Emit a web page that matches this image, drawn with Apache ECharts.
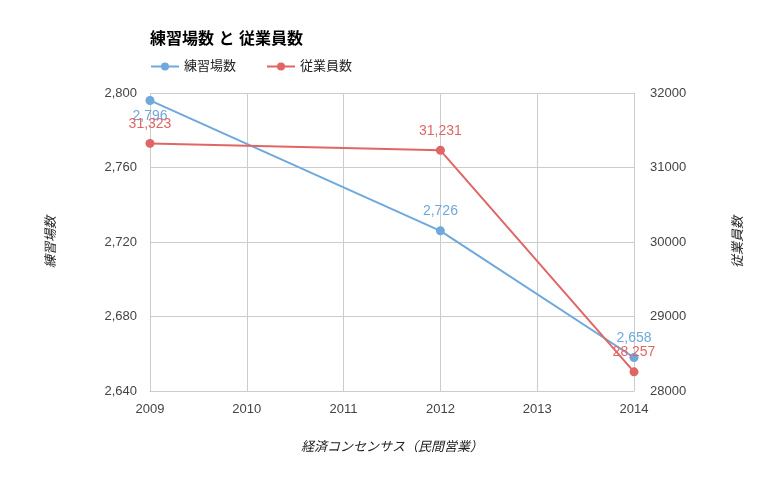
<!DOCTYPE html>
<html>
<head>
<meta charset="utf-8">
<script src="https://cdn.jsdelivr.net/npm/echarts@6/dist/echarts.min.js"></script>
<style>
  html, body { margin: 0; padding: 0; background: #fff; }
  #chart { width: 783px; height: 484px; }
</style>
</head>
<body>
<div id="chart"></div>
<script>
const years = [2009, 2012, 2014]
const rangeCount = [2796, 2726, 2658]
const employees = [31323, 31231, 28257]
const leftTicks = [2640, 2680, 2720, 2760, 2800]
const rightTicks = [28000, 29000, 30000, 31000, 32000]

const font = '"Liberation Sans", Arial, "Noto Sans CJK JP", sans-serif'
const comma = v => Number(v).toLocaleString('en-US')

const chart = echarts.init(document.getElementById('chart'))

const option = {
  animation: false,
  textStyle: { fontFamily: font },
  title: {
    text: '練習場数 と 従業員数',
    left: 145,
    top: 27,
    textStyle: { fontSize: 16, fontWeight: 'bold', color: '#000', fontFamily: font }
  },
  legend: {
    left: 145,
    top: 55,
    itemWidth: 28,
    itemHeight: 10,
    itemGap: 30,
    textStyle: { fontSize: 13, color: '#222', fontFamily: font },
    data: ['練習場数', '従業員数']
  },
  grid: { left: 150, right: 149, top: 93, bottom: 93 },
  xAxis: {
    type: 'value',
    min: 2009,
    max: 2014,
    interval: 1,
    name: '経済コンセンサス（民間営業）',
    nameLocation: 'middle',
    nameGap: 50,
    nameTextStyle: { fontStyle: 'italic', fontSize: 13, color: '#222', fontFamily: font },
    axisLine: { show: true, lineStyle: { color: '#ccc' } },
    axisTick: { show: false },
    splitLine: { show: true, lineStyle: { color: '#ccc' } },
    axisLabel: { color: '#444', fontSize: 13, margin: 12, fontFamily: font, formatter: v => String(v) }
  },
  yAxis: [
    {
      type: 'value',
      min: leftTicks[0],
      max: leftTicks[leftTicks.length - 1],
      interval: 40,
      name: '練習場数',
      nameLocation: 'middle',
      nameRotate: 90,
      nameGap: 92,
      nameTextStyle: { fontStyle: 'italic', fontSize: 13, color: '#222', fontFamily: font },
      axisLine: { show: false },
      axisTick: { show: false },
      splitLine: { show: true, lineStyle: { color: '#ccc' } },
      axisLabel: { color: '#444', fontSize: 13, margin: 13, fontFamily: font, formatter: comma }
    },
    {
      type: 'value',
      min: rightTicks[0],
      max: rightTicks[rightTicks.length - 1],
      interval: 1000,
      name: '従業員数',
      nameLocation: 'middle',
      nameRotate: 90,
      nameGap: 98,
      nameTextStyle: { fontStyle: 'italic', fontSize: 13, color: '#222', fontFamily: font },
      axisLine: { show: false },
      axisTick: { show: false },
      splitLine: { show: false },
      axisLabel: { color: '#444', fontSize: 13, margin: 16, fontFamily: font, formatter: v => String(v) }
    }
  ],
  series: [
    {
      name: '練習場数',
      type: 'line',
      yAxisIndex: 0,
      symbol: 'circle',
      symbolSize: 9,
      color: '#6fa8dc',
      lineStyle: { width: 2, color: '#6fa8dc' },
      data: years.map((y, i) => ({
        value: [y, rangeCount[i]],
        label: i === 0 ? { position: 'bottom', distance: 4 } : {}
      })),
      label: {
        show: true,
        position: 'top',
        distance: 8,
        color: '#6fa8dc',
        fontSize: 14,
        fontFamily: font,
        formatter: p => comma(p.value[1])
      }
    },
    {
      name: '従業員数',
      type: 'line',
      yAxisIndex: 1,
      symbol: 'circle',
      symbolSize: 9,
      color: '#e06666',
      lineStyle: { width: 2, color: '#e06666' },
      data: years.map((y, i) => [y, employees[i]]),
      label: {
        show: true,
        position: 'top',
        distance: 8,
        color: '#e06666',
        fontSize: 14,
        fontFamily: font,
        formatter: p => comma(p.value[1])
      }
    }
  ]
}

chart.setOption(option)
</script>
</body>
</html>
